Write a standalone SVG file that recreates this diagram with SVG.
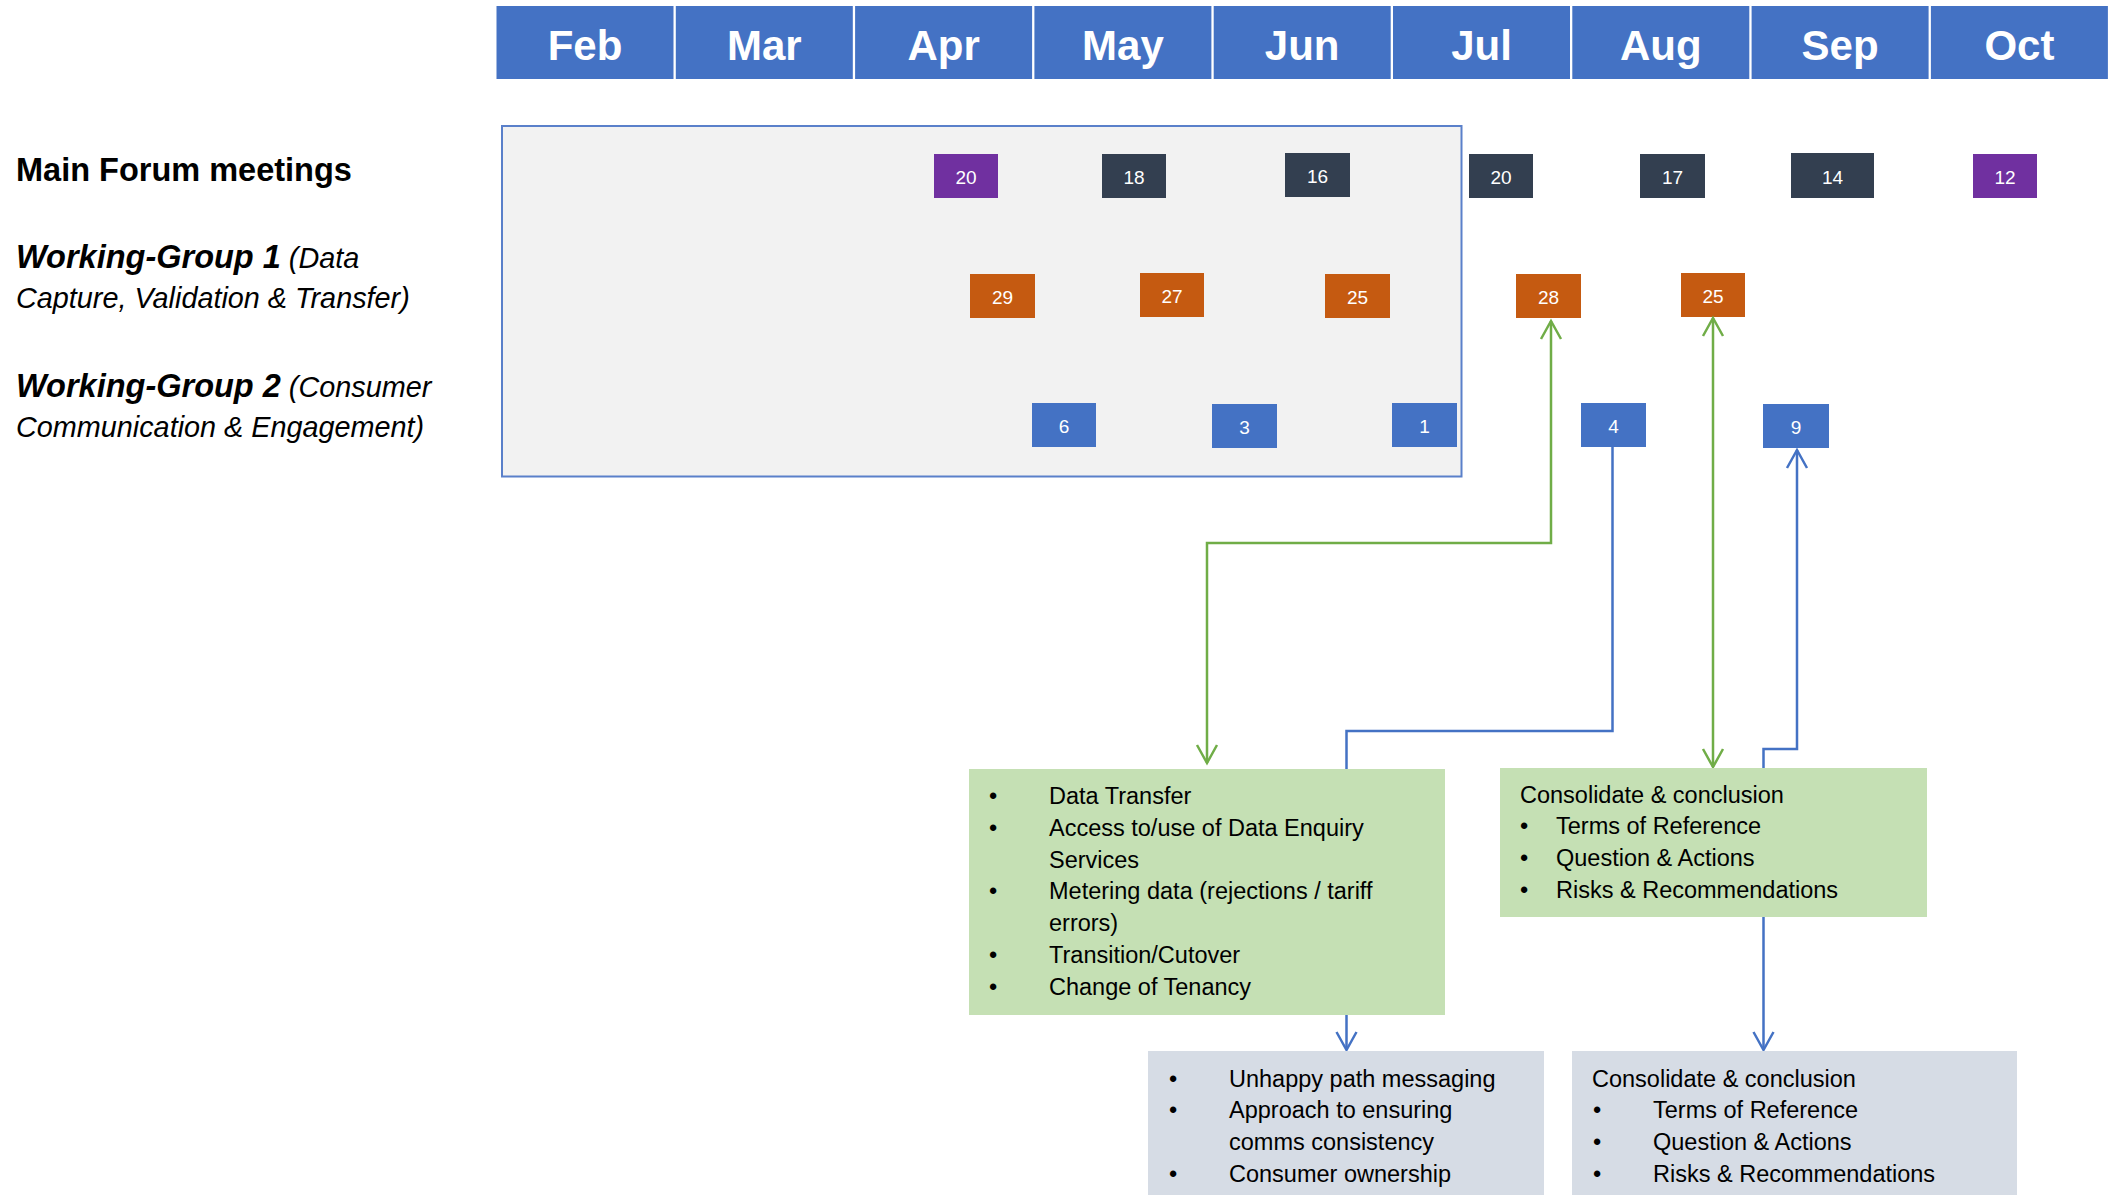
<svg xmlns="http://www.w3.org/2000/svg" width="2118" height="1195" viewBox="0 0 2118 1195">
<style>
.month{fill:#4472c4}
.mt{font-family:"Liberation Sans",Arial,sans-serif;font-weight:bold;font-size:42px;fill:#fff;text-anchor:middle}
.lbl{font-family:"Liberation Sans",Arial,sans-serif;fill:#000}
.b{font-weight:bold;font-style:italic;font-size:32.5px}
.i{font-style:italic;font-weight:normal;font-size:28.8px}
.num{font-family:"Liberation Sans",Arial,sans-serif;font-size:19px;fill:#fff;text-anchor:middle}
.mf{fill:#333f50}.pu{fill:#7030a0}.or{fill:#c55a11}.bl{fill:#4472c4}
.body{font-family:"Liberation Sans",Arial,sans-serif;font-size:23.5px;fill:#000}
.bul{text-anchor:middle}
.gline{fill:none;stroke:#70ad47;stroke-width:2.5}
.bline{fill:none;stroke:#4472c4;stroke-width:2.5}
</style>
<defs>
<marker id="ag" markerUnits="userSpaceOnUse" viewBox="-20 -12 24 24" refX="0" refY="0" markerWidth="24" markerHeight="24" orient="auto-start-reverse">
<path d="M-18,-10 L0,0 L-18,10" fill="none" stroke="#70ad47" stroke-width="2.5"/>
</marker>
<marker id="ab" markerUnits="userSpaceOnUse" viewBox="-20 -12 24 24" refX="0" refY="0" markerWidth="24" markerHeight="24" orient="auto-start-reverse">
<path d="M-18,-10 L0,0 L-18,10" fill="none" stroke="#4472c4" stroke-width="2.5"/>
</marker>
</defs>
<rect width="2118" height="1195" fill="#fff"/>

<g id="header">
<rect class="month" x="496.5" y="6" width="177" height="73"/>
<rect class="month" x="675.8" y="6" width="177" height="73"/>
<rect class="month" x="855.1" y="6" width="177" height="73"/>
<rect class="month" x="1034.4" y="6" width="177" height="73"/>
<rect class="month" x="1213.7" y="6" width="177" height="73"/>
<rect class="month" x="1393" y="6" width="177" height="73"/>
<rect class="month" x="1572.3" y="6" width="177" height="73"/>
<rect class="month" x="1751.6" y="6" width="177" height="73"/>
<rect class="month" x="1930.9" y="6" width="177" height="73"/>
<text class="mt" x="585" y="60">Feb</text>
<text class="mt" x="764.3" y="60">Mar</text>
<text class="mt" x="943.6" y="60">Apr</text>
<text class="mt" x="1122.9" y="60">May</text>
<text class="mt" x="1302.2" y="60">Jun</text>
<text class="mt" x="1481.5" y="60">Jul</text>
<text class="mt" x="1660.8" y="60">Aug</text>
<text class="mt" x="1840.1" y="60">Sep</text>
<text class="mt" x="2019.4" y="60">Oct</text>
</g>

<g id="labels">
<text class="lbl" x="16" y="181" font-weight="bold" font-size="32.5">Main Forum meetings</text>
<text class="lbl" x="16" y="268"><tspan class="b">Working-Group 1</tspan><tspan class="i"> (Data</tspan></text>
<text class="lbl i" x="16" y="308">Capture, Validation &amp; Transfer)</text>
<text class="lbl" x="16" y="397"><tspan class="b">Working-Group 2</tspan><tspan class="i"> (Consumer</tspan></text>
<text class="lbl i" x="16" y="437">Communication &amp; Engagement)</text>
</g>

<g id="past-panel">
<rect x="502" y="126" width="959.5" height="350.5" fill="#f2f2f2" stroke="#5a80ca" stroke-width="2"/>
</g>

<g id="main-forum">
<g id="mf-20a"><rect class="pu" x="934" y="154" width="64" height="44"/><text class="num" x="966" y="184">20</text></g>
<g id="mf-18"><rect class="mf" x="1102" y="154" width="64" height="44"/><text class="num" x="1134" y="184">18</text></g>
<g id="mf-16"><rect class="mf" x="1285" y="153" width="65" height="44"/><text class="num" x="1317.5" y="183">16</text></g>
<g id="mf-20b"><rect class="mf" x="1469" y="154" width="64" height="44"/><text class="num" x="1501" y="184">20</text></g>
<g id="mf-17"><rect class="mf" x="1640" y="154" width="65" height="44"/><text class="num" x="1672.5" y="184">17</text></g>
<g id="mf-14"><rect class="mf" x="1791" y="153" width="83" height="45"/><text class="num" x="1832.5" y="184">14</text></g>
<g id="mf-12"><rect class="pu" x="1973" y="154" width="64" height="44"/><text class="num" x="2005" y="184">12</text></g>
</g>

<g id="wg1">
<g id="wg1-29"><rect class="or" x="970" y="274" width="65" height="44"/><text class="num" x="1002.5" y="304">29</text></g>
<g id="wg1-27"><rect class="or" x="1140" y="273" width="64" height="44"/><text class="num" x="1172" y="303">27</text></g>
<g id="wg1-25a"><rect class="or" x="1325" y="274" width="65" height="44"/><text class="num" x="1357.5" y="304">25</text></g>
<g id="wg1-28"><rect class="or" x="1516" y="274" width="65" height="44"/><text class="num" x="1548.5" y="304">28</text></g>
<g id="wg1-25b"><rect class="or" x="1681" y="273" width="64" height="44"/><text class="num" x="1713" y="303">25</text></g>
</g>

<g id="wg2">
<g id="wg2-6"><rect class="bl" x="1032" y="403" width="64" height="44"/><text class="num" x="1064" y="433">6</text></g>
<g id="wg2-3"><rect class="bl" x="1212" y="404" width="65" height="44"/><text class="num" x="1244.5" y="434">3</text></g>
<g id="wg2-1"><rect class="bl" x="1392" y="403" width="65" height="44"/><text class="num" x="1424.5" y="433">1</text></g>
<g id="wg2-4"><rect class="bl" x="1581" y="403" width="65" height="44"/><text class="num" x="1613.5" y="433">4</text></g>
<g id="wg2-9"><rect class="bl" x="1763" y="404" width="66" height="44"/><text class="num" x="1796" y="434">9</text></g>
</g>

<g id="connectors">
<path class="gline" d="M1551,321 L1551,543 L1207,543 L1207,763" marker-start="url(#ag)" marker-end="url(#ag)"/>
<path class="gline" d="M1713,318 L1713,767" marker-start="url(#ag)" marker-end="url(#ag)"/>
<path class="bline" d="M1612.5,447 L1612.5,731 L1346.5,731 L1346.5,1050" marker-end="url(#ab)"/>
<path class="bline" d="M1797,450 L1797,749 L1763.5,749 L1763.5,1050" marker-start="url(#ab)" marker-end="url(#ab)"/>
</g>

<g id="wg1-topics">
<rect x="969" y="769" width="476" height="246" fill="#c5e0b4"/>
<text class="body bul" x="993" y="804">•</text><text class="body" x="1049" y="804">Data Transfer</text>
<text class="body bul" x="993" y="836">•</text><text class="body" x="1049" y="836">Access to/use of Data Enquiry</text>
<text class="body" x="1049" y="868">Services</text>
<text class="body bul" x="993" y="899">•</text><text class="body" x="1049" y="899">Metering data (rejections / tariff</text>
<text class="body" x="1049" y="931">errors)</text>
<text class="body bul" x="993" y="963">•</text><text class="body" x="1049" y="963">Transition/Cutover</text>
<text class="body bul" x="993" y="995">•</text><text class="body" x="1049" y="995">Change of Tenancy</text>
</g>

<g id="wg1-conclusion">
<rect x="1500" y="768" width="427" height="149" fill="#c5e0b4"/>
<text class="body" x="1520" y="803">Consolidate &amp; conclusion</text>
<text class="body bul" x="1524" y="834">•</text><text class="body" x="1556" y="834">Terms of Reference</text>
<text class="body bul" x="1524" y="866">•</text><text class="body" x="1556" y="866">Question &amp; Actions</text>
<text class="body bul" x="1524" y="898">•</text><text class="body" x="1556" y="898">Risks &amp; Recommendations</text>
</g>

<g id="wg2-topics">
<rect x="1148" y="1051" width="396" height="150" fill="#d6dce5"/>
<text class="body bul" x="1173" y="1087">•</text><text class="body" x="1229" y="1087">Unhappy path messaging</text>
<text class="body bul" x="1173" y="1118">•</text><text class="body" x="1229" y="1118">Approach to ensuring</text>
<text class="body" x="1229" y="1150">comms consistency</text>
<text class="body bul" x="1173" y="1182">•</text><text class="body" x="1229" y="1182">Consumer ownership</text>
</g>

<g id="wg2-conclusion">
<rect x="1572" y="1051" width="445" height="150" fill="#d6dce5"/>
<text class="body" x="1592" y="1087">Consolidate &amp; conclusion</text>
<text class="body bul" x="1597" y="1118">•</text><text class="body" x="1653" y="1118">Terms of Reference</text>
<text class="body bul" x="1597" y="1150">•</text><text class="body" x="1653" y="1150">Question &amp; Actions</text>
<text class="body bul" x="1597" y="1182">•</text><text class="body" x="1653" y="1182">Risks &amp; Recommendations</text>
</g>
</svg>
